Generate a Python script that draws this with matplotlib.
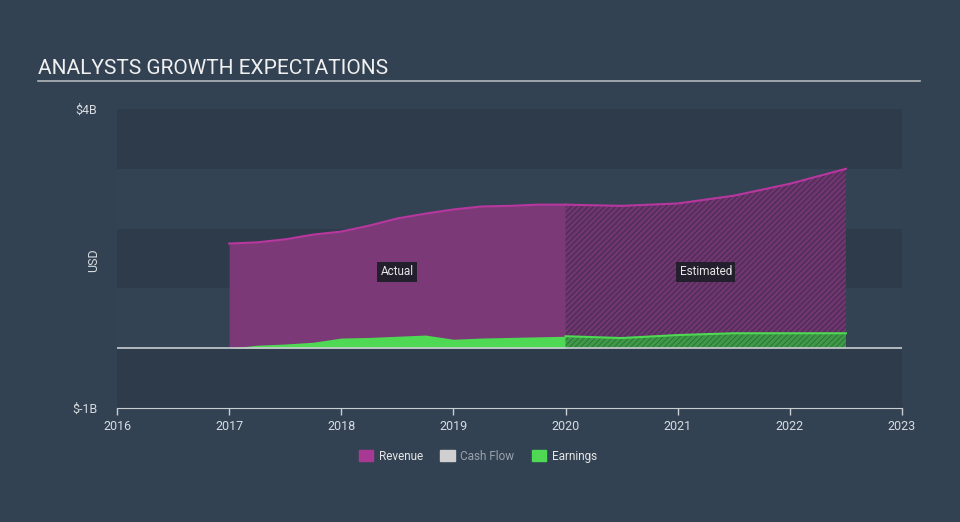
import matplotlib
matplotlib.use("Agg")
import matplotlib.pyplot as plt
from matplotlib.patches import Patch

plt.rcParams['font.family'] = ['Roboto', 'DejaVu Sans']
plt.rcParams['hatch.linewidth'] = 0.6

# data (USD billions)
actual_years = [2017.0, 2017.25, 2017.5, 2017.75, 2018.0, 2018.25, 2018.5, 2018.75,
                2019.0, 2019.25, 2019.5, 2019.75, 2020.0]
actual_revenue = [1.75, 1.77, 1.82, 1.90, 1.95, 2.05, 2.17, 2.25, 2.32, 2.37, 2.38, 2.40, 2.40]
actual_earnings = [0.0, 0.05, 0.07, 0.10, 0.17, 0.18, 0.20, 0.22, 0.15, 0.17, 0.18, 0.19, 0.20]

est_years = [2020.0, 2020.5, 2021.0, 2021.5, 2022.0, 2022.5]
est_revenue = [2.40, 2.38, 2.42, 2.55, 2.75, 3.00]
est_earnings = [0.20, 0.17, 0.22, 0.25, 0.25, 0.25]

year_ticks = [2016, 2017, 2018, 2019, 2020, 2021, 2022, 2023]

bg = '#334253'
dark_band = '#2e3b4b'
light_band = '#344354'
rev_fill = '#7b3a77'
rev_line = '#b8379f'
earn_fill = '#4fd853'
text_col = '#d8dce0'

fig = plt.figure(figsize=(9.6, 5.22), dpi=100)
fig.patch.set_facecolor(bg)
ax = fig.add_axes([117 / 960, 1 - 408 / 522, 785 / 960, 299 / 522])
ax.set_facecolor(bg)

# horizontal bands
for i, lo in enumerate([-1, 0, 1, 2, 3]):
    ax.axhspan(lo, lo + 1, color=dark_band if i % 2 == 0 else light_band, lw=0, zorder=0)

# actual
ax.fill_between(actual_years, 0, actual_revenue, color=rev_fill, lw=0, zorder=2)
ax.plot(actual_years, actual_revenue, color=rev_line, lw=1.5, zorder=3)
ax.fill_between(actual_years, 0, actual_earnings, color=earn_fill, lw=0, zorder=4)

# estimated
ax.fill_between(est_years, 0, est_revenue, facecolor='#6f3570', edgecolor='#3d2a45',
                hatch='//////', lw=0, zorder=2)
ax.plot(est_years, est_revenue, color=rev_line, lw=1.5, zorder=3)
ax.fill_between(est_years, 0, est_earnings, facecolor='#3f9a48', edgecolor='#2c6a38',
                hatch='//////', lw=0, zorder=4)
ax.plot(est_years, est_earnings, color=earn_fill, lw=1.5, zorder=5)

ax.axhline(0, color='#c8cdd2', lw=1.2, zorder=6)

box = dict(boxstyle='square,pad=0.3', fc='#231f2c', ec='none')
ax.text(2018.5, 1.28, 'Actual', color='#e6e6e6', fontsize=8.5, ha='center', va='center',
        bbox=box, zorder=7)
ax.text(2021.25, 1.28, 'Estimated', color='#e6e6e6', fontsize=8.5, ha='center', va='center',
        bbox=box, zorder=7)

ax.set_xlim(2016, 2023)
ax.set_ylim(-1, 4)
ax.set_xticks(year_ticks)
ax.set_xticklabels([str(y) for y in year_ticks])
ax.set_yticks([-1, 4])
ax.set_yticklabels(['$-1B', '$4B'])
ax.tick_params(axis='x', colors='#c8cdd2', labelcolor=text_col, labelsize=9, length=5, width=1)
ax.tick_params(axis='y', length=0, labelcolor=text_col, labelsize=9, pad=14)
for s in ['top', 'right', 'left']:
    ax.spines[s].set_visible(False)
ax.spines['bottom'].set_color('#c8cdd2')
ax.set_ylabel('USD', color=text_col, fontsize=9)
ax.yaxis.set_label_coords(-0.022, 0.495)

fig.text(38 / 960, 1 - 68 / 522, 'ANALYSTS GROWTH EXPECTATIONS', color='#f0f0f0',
         fontsize=15, va='center', ha='left')
fig.add_artist(plt.Line2D([38 / 960, 920 / 960], [1 - 81 / 522, 1 - 81 / 522],
                          color='#b0b6bc', lw=1.2))

handles = [Patch(color='#a83a96'), Patch(color='#cfcfcf'), Patch(color=earn_fill)]
leg = fig.legend(handles, ['Revenue', 'Cash Flow', 'Earnings'], loc='center',
                 bbox_to_anchor=(478 / 960, 1 - 456 / 522), ncol=3, frameon=False,
                 fontsize=8.5, handlelength=1.2, handleheight=1.0, columnspacing=1.5,
                 handletextpad=0.5)
for t, c in zip(leg.get_texts(), ['#e6e6e6', '#9aa2aa', '#e6e6e6']):
    t.set_color(c)

fig.savefig('out.png', dpi=100, facecolor=bg)
